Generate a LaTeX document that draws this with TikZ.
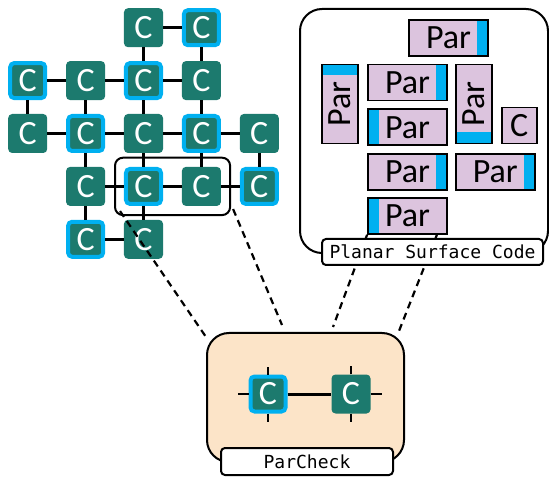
\documentclass[tikz,border=0pt]{standalone}
\usepackage{fontspec}
\setmainfont{Carlito}
\newfontfamily\codefont{DejaVu Sans Mono}
\usetikzlibrary{matrix,positioning,fit}

\definecolor{qteal}{RGB}{28,122,110}
\definecolor{qcyan}{RGB}{0,176,240}
\definecolor{qlilac}{RGB}{220,196,222}
\definecolor{qpeach}{RGB}{252,228,200}

\tikzset{
  qubit/.style={fill=qteal, text=white, rounded corners=4pt, minimum size=39pt,
    inner sep=0pt, font=\fontsize{34}{34}\selectfont},
  dataq/.style={qubit, draw=qcyan, line width=4pt, minimum size=35pt},
  bond/.style={line width=3pt},
  zoomline/.style={line width=2.2pt, dash pattern=on 7pt off 5pt},
  frame/.style={draw, line width=2pt, rounded corners=22pt},
  tag/.style={draw, fill=white, line width=2pt, rounded corners=4pt, inner sep=0pt,
    font=\codefont\fontsize{18}{18}\selectfont},
  patch/.style={draw, fill=qlilac, line width=1.8pt, inner sep=0pt,
    minimum width=79pt, minimum height=36pt, font=\fontsize{34}{34}\selectfont},
  vpatch/.style={patch, minimum width=36pt, minimum height=79pt},
  stripe e/.style={path picture={\fill[qcyan] ([xshift=-11pt]path picture bounding box.north east)
    rectangle (path picture bounding box.south east);}},
  stripe w/.style={path picture={\fill[qcyan] (path picture bounding box.north west)
    rectangle ([xshift=11pt]path picture bounding box.south west);}},
  stripe n/.style={path picture={\fill[qcyan] (path picture bounding box.north west)
    rectangle ([yshift=-11pt]path picture bounding box.north east);}},
  stripe s/.style={path picture={\fill[qcyan] ([yshift=11pt]path picture bounding box.south west)
    rectangle (path picture bounding box.south east);}},
}

\begin{document}
\begin{tikzpicture}[x=1pt, y=-1pt]
  \useasboundingbox (0,0) rectangle (549,478);

  % lattice
  \matrix (m) at (143.5,133.5) [matrix of nodes, nodes={qubit}, column sep=18.9pt, row sep=13.9pt] {
                &             & C           & |[dataq]| C &             \\
    |[dataq]| C & C           & |[dataq]| C & C           &             \\
    C           & |[dataq]| C & C           & |[dataq]| C & C           \\
                & C           & |[dataq]| C & C           & |[dataq]| C \\
                & |[dataq]| C & C           &             &             \\
  };
  \draw[bond] (m-1-3) -- (m-1-4);
  \draw[bond] (m-1-3) -- (m-2-3);
  \draw[bond] (m-1-4) -- (m-2-4);
  \draw[bond] (m-2-1) -- (m-2-2);
  \draw[bond] (m-2-2) -- (m-2-3);
  \draw[bond] (m-2-3) -- (m-2-4);
  \draw[bond] (m-2-1) -- (m-3-1);
  \draw[bond] (m-2-2) -- (m-3-2);
  \draw[bond] (m-2-3) -- (m-3-3);
  \draw[bond] (m-2-4) -- (m-3-4);
  \draw[bond] (m-3-1) -- (m-3-2);
  \draw[bond] (m-3-2) -- (m-3-3);
  \draw[bond] (m-3-3) -- (m-3-4);
  \draw[bond] (m-3-4) -- (m-3-5);
  \draw[bond] (m-3-2) -- (m-4-2);
  \draw[bond] (m-3-3) -- (m-4-3);
  \draw[bond] (m-3-4) -- (m-4-4);
  \draw[bond] (m-3-5) -- (m-4-5);
  \draw[bond] (m-4-2) -- (m-4-3);
  \draw[bond] (m-4-3) -- (m-4-4);
  \draw[bond] (m-4-4) -- (m-4-5);
  \draw[bond] (m-4-2) -- (m-5-2);
  \draw[bond] (m-4-3) -- (m-5-3);
  \draw[bond] (m-5-2) -- (m-5-3);
  \node[draw, line width=2pt, rounded corners=8pt, inner sep=9pt, fit=(m-4-3) (m-4-4)] (sel) {};

  % parity check close-up
  \node[frame, fill=qpeach, minimum width=197pt, minimum height=129pt] (pc) at (305.5,397.5) {};
  \coordinate (pcl) at (282,325);
  \coordinate (pcr) at (333,327);
  \draw[zoomline] ([xshift=6pt, yshift=5pt]sel.south west) -- ([yshift=-5pt]pc.north west);
  \draw[zoomline] ([xshift=2pt, yshift=7pt]sel.south east) -- (pcl);
  \node[dataq] (pl) at (268,394) {C};
  \node[qubit] (pr) at (351,394) {C};
  \draw[bond] (pl) -- (pr);
  \draw[line width=2.5pt] (pl.west) -- ++(-11,0);
  \draw[line width=2.5pt] (pr.east) -- ++(11,0);
  \draw[line width=2.5pt] (pl.north) -- ++(0,-8);
  \draw[line width=2.5pt] (pl.south) -- ++(0,8);
  \draw[line width=2.5pt] (pr.north) -- ++(0,-8);
  \draw[line width=2.5pt] (pr.south) -- ++(0,8);
  \node[tag, minimum width=172pt, minimum height=27pt] (pctag) at (307,461.5) {ParCheck};

  % surface code patches
  \node[frame, minimum width=248pt, minimum height=244pt] (psc) at (424,131) {};
  \node[patch, stripe e] (p1) at (448.5,38) {Par};
  \node[patch, stripe e] (p2) at (407.5,82.5) {Par};
  \node[patch, stripe w, below=7pt of p2] (p3) {Par};
  \node[patch, stripe e, below=7pt of p3] (p4) {Par};
  \node[patch, stripe w, below=6pt of p4] (p6) {Par};
  \node[vpatch, stripe n, left=8pt of p2.north west, anchor=north east] (pv1) {\rotatebox{90}{Par}};
  \node[vpatch, stripe s, right=7pt of p2.north east, anchor=north west] (pv2) {\rotatebox{90}{Par}};
  \node[patch, minimum width=35pt, right=8pt of pv2.south east, anchor=south west] (pcq) {C};
  \node[patch, stripe e, right=7pt of p4] (p5) {Par};
  \draw[zoomline] (p6.south west) -- (pcr);
  \draw[zoomline] ([xshift=-11pt]p6.south east) -- ([xshift=-6pt, yshift=1pt]pc.north east);
  \node[tag, minimum width=221pt, minimum height=26pt] (psctag) at (432.5,252) {Planar Surface Code};
\end{tikzpicture}
\end{document}
